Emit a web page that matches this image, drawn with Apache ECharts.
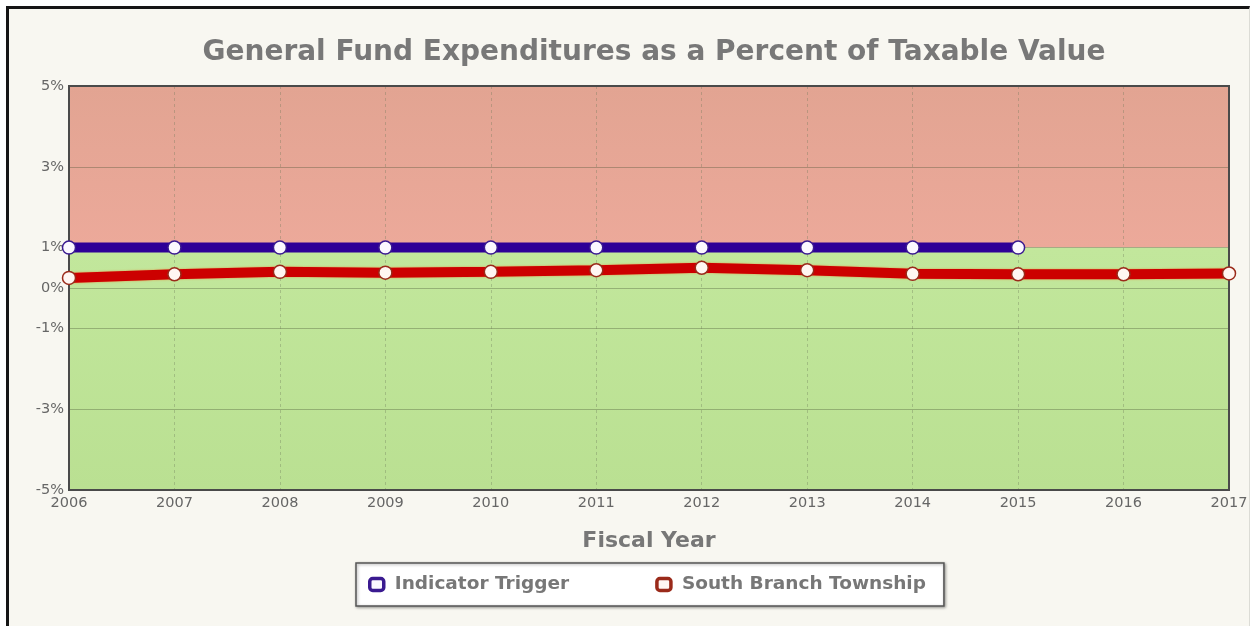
<!DOCTYPE html>
<html>
<head>
<meta charset="utf-8">
<script src="https://cdn.jsdelivr.net/npm/echarts@6/dist/echarts.min.js"></script>
<style>
  html, body { margin: 0; padding: 0; background: #ffffff; }
  #frame {
    position: absolute; left: 6px; top: 6px; width: 1240px; height: 618px;
    border-left: 3px solid #151515; border-top: 3px solid #151515;
    border-right: 1px solid #dcdcd6; border-bottom: 1px solid #e4e4de;
    background: #f8f7f1;
  }
  #chart { position: absolute; left: 0; top: 0; width: 1252px; height: 626px; }
</style>
</head>
<body>
<div id="frame"></div>
<div id="chart"></div>
<script>
// Fiscal years on the category axis
const years = ['2006', '2007', '2008', '2009', '2010', '2011', '2012', '2013', '2014', '2015', '2016', '2017'];
// Indicator trigger threshold (percent), defined through 2015
const indicatorTrigger = [1, 1, 1, 1, 1, 1, 1, 1, 1, 1];
// South Branch Township general fund expenditures as % of taxable value
const southBranch = [0.25, 0.34, 0.40, 0.38, 0.40, 0.44, 0.50, 0.44, 0.35, 0.34, 0.34, 0.36];
// Labelled percentages on the value axis
const yTickValues = [-5, -3, -1, 0, 1, 3, 5];
// Zone boundaries: above the trigger is the warning zone
const zoneTop = 5, zoneSplit = 1, zoneBottom = -5;

const FONT = 'DejaVu Sans';
const chart = echarts.init(document.getElementById('chart'), null, { renderer: 'canvas' });

chart.setOption({
  backgroundColor: 'transparent',
  animation: false,
  title: {
    text: 'General Fund Expenditures as a Percent of Taxable Value',
    left: 649, top: 34, textAlign: 'center',
    textStyle: { fontFamily: FONT, fontSize: 28, fontWeight: 'bold', color: '#787878' }
  },
  grid: {
    left: 69, right: 23, top: 86, bottom: 136,
    show: true, borderColor: '#4a4a4a', borderWidth: 2,
    backgroundColor: 'transparent', z: 4
  },
  legend: {
    left: 356, top: 563,
    data: ['Indicator Trigger', 'South Branch Township'],
    icon: 'roundRect', itemWidth: 14, itemHeight: 12, itemGap: 86,
    backgroundColor: '#ffffff', borderColor: '#555555', borderWidth: 1.5,
    padding: [12, 18, 12, 12],
    shadowColor: 'rgba(0,0,0,0.35)', shadowBlur: 3, shadowOffsetX: 1, shadowOffsetY: 1,
    itemStyle: { borderWidth: 3.5 },
    textStyle: { fontFamily: FONT, fontSize: 18.5, fontWeight: 'bold', color: '#777777', padding: [0, 0, 0, 6] }
  },
  xAxis: {
    type: 'category', data: years, boundaryGap: false,
    name: 'Fiscal Year', nameLocation: 'middle', nameGap: 40,
    nameTextStyle: { fontFamily: FONT, fontSize: 22, fontWeight: 'bold', color: '#777777' },
    axisLine: { show: false }, axisTick: { show: false },
    axisLabel: { fontFamily: FONT, fontSize: 14.5, color: '#666666', margin: 6, interval: 0 },
    splitLine: { show: true, lineStyle: { color: 'rgba(110,120,90,0.35)', type: [3, 3], width: 1 } },
    z: 3
  },
  yAxis: {
    type: 'value', min: zoneBottom, max: zoneTop, interval: 1,
    axisLine: { show: false },
    axisTick: { show: false, customValues: yTickValues },
    axisLabel: {
      fontFamily: FONT, fontSize: 14.5, color: '#666666', margin: 5,
      customValues: yTickValues, formatter: v => v + '%'
    },
    splitLine: { show: true, lineStyle: { color: 'rgba(70,80,50,0.35)', width: 1 } },
    z: 3
  },
  series: [
    {
      // Background zones: warning band above the trigger, healthy band below
      name: 'zones', type: 'line', data: [], z: 1, silent: true,
      markArea: {
        silent: true,
        data: [
          [{ yAxis: zoneSplit, itemStyle: { color: {
              type: 'linear', x: 0, y: 0, x2: 0, y2: 1,
              colorStops: [{ offset: 0, color: '#e2a492' }, { offset: 1, color: '#eca99a' }] } } },
           { yAxis: zoneTop }],
          [{ yAxis: zoneBottom, itemStyle: { color: {
              type: 'linear', x: 0, y: 0, x2: 0, y2: 1,
              colorStops: [{ offset: 0, color: '#c2e79c' }, { offset: 1, color: '#bae092' }] } } },
           { yAxis: zoneSplit }]
        ]
      }
    },
    {
      name: 'Indicator Trigger', type: 'line', data: indicatorTrigger, z: 6,
      color: '#2e0097',
      symbol: 'circle', symbolSize: 13,
      lineStyle: { color: '#2e0097', width: 10 },
      itemStyle: { color: '#fbf8ff', borderColor: '#3a1a90', borderWidth: 1.5 }
    },
    {
      name: 'South Branch Township', type: 'line', data: southBranch, z: 5,
      color: '#cc0000',
      symbol: 'circle', symbolSize: 13,
      lineStyle: { color: '#cc0000', width: 10, shadowColor: 'rgba(240,120,40,0.8)', shadowBlur: 2 },
      itemStyle: { color: '#fff6f2', borderColor: '#9a2a1a', borderWidth: 1.5 }
    }
  ]
});
</script>
</body>
</html>
